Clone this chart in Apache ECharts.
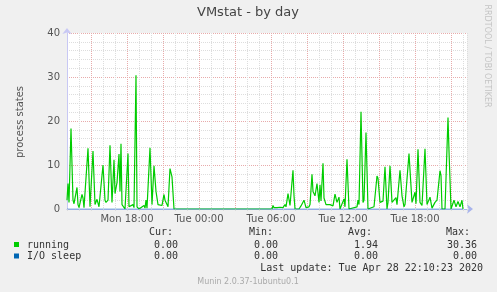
<!DOCTYPE html>
<html>
<head>
<meta charset="utf-8">
<script src="https://cdn.jsdelivr.net/npm/echarts@6/dist/echarts.min.js"></script>
<style>
html,body{margin:0;padding:0;background:#f0f0f0;}
#c{width:497px;height:292px;}
</style>
</head>
<body>
<div id="c"></div>
<script>
// minutes since Mon 00:00 (5-minute samples)
var runningTimes = [
 780,785,790,800,810,815,830,835,840,855,860,865,875,885,895,900,910,920,930,940,950,960,970,975,985,995,1005,1015,1020,1030,1040,1045,1050,1055,1065,1070,1085,1090,1095,1110,1115,1125,1130,1140,1150,1165,1170,1175,1180,1185,1195,1205,1215,1225,1235,1245,1255,1265,1270,1280,1285,1295,1305,1315,
 1805,1810,1815,1825,1830,1840,1845,1855,1860,1870,1875,1885,1895,1910,1915,1920,1940,1950,1960,1965,1975,1985,1990,1995,2005,2010,2020,2030,2040,2045,2050,2060,2065,2075,2085,2095,2110,2120,2130,2140,2145,2155,2165,2170,2180,2190,2230,2235,2240,2250,2260,2265,2275,2285,2315,2330,2335,2345,2350,2360,2370,2380,2385,2395,2405,2415,2425,2430,2445,2455,2465,2470,2480,2490,2505,2520,2525,2535,2545,2555,2560,2570,2580,2590,2595,2605,2615,2620,2630,2645,2650,2655,2670,2685,2690,2700,2710,2715,2725,2735,2745,2755,2760
];
var runningValues = [
 2.0,5.8,1.5,18.3,2.0,1.2,4.9,1.0,0.3,3.3,2.5,0.3,0.2,13.8,0.5,0.2,13.2,1.0,2.2,0.5,0.3,10.0,2.0,1.5,2.0,14.5,1.5,11.2,3.5,6.0,12.5,4.0,14.8,1.0,1.2,0.0,12.6,0.5,0.2,1.0,0.3,30.4,0.5,0.0,0.0,0.8,0.2,2.0,0.2,0.0,13.9,1.0,9.8,4.0,1.0,1.0,0.8,3.3,2.0,1.0,0.5,9.2,7.3,0.0,
 0.0,0.8,0.3,0.6,0.3,0.7,0.4,0.8,0.3,1.0,0.5,3.5,0.8,8.8,3.0,0.0,0.0,0.7,0.3,2.0,0.3,0.7,0.5,1.0,7.9,4.0,3.0,5.8,1.5,5.5,1.8,10.4,2.5,1.0,0.8,1.0,0.7,3.4,1.5,2.7,0.0,0.3,2.3,0.5,11.3,0.0,0.5,2.0,1.0,22.1,1.5,2.0,17.4,0.0,0.5,7.5,7.0,1.5,1.5,1.8,9.6,0.0,1.5,9.8,1.5,1.8,2.6,1.0,8.8,3.0,0.5,1.0,0.8,12.6,1.5,3.8,1.2,13.6,1.5,0.8,1.0,13.7,1.0,1.0,2.7,0.2,0.0,1.5,2.0,8.7,7.6,0.0,0.0,20.8,13.2,0.0,0.3,2.0,0.5,1.7,0.5,2.0,0.0
];
var ioSleepTimes = [780, 2760];
var ioSleepValues = [0, 0];

var xLabelHours = [1080, 1440, 1800, 2160, 2520];
var yLabelValues = [0, 10, 20, 30, 40];

var legendNames = ['running', 'I/O sleep'];
var legendColors = ['#00cc00', '#0066b3'];
var statHeaders = ['Cur:', 'Min:', 'Avg:', 'Max:'];
var runningStats = ['0.00', '0.00', '1.94', '30.36'];
var ioSleepStats = ['0.00', '0.00', '0.00', '0.00'];
var lastUpdate = 'Last update: Tue Apr 28 22:10:23 2020';
var footer = 'Munin 2.0.37-1ubuntu0.1';

function zip(a, b) { return a.map(function (v, i) { return [v, b[i]]; }); }
function pad(n) { return (n < 10 ? '0' : '') + n; }

var chart = echarts.init(document.getElementById('c'), null, {renderer: 'canvas'});

var GRAY = '#dddddd', RED = '#e8abab';
var mono = '"DejaVu Sans Mono", monospace';
var sans = '"DejaVu Sans", sans-serif';

var graphics = [];
graphics.push({type:'text', style:{text:'VMstat - by day', x:248, y:13, textAlign:'center', textVerticalAlign:'middle', font:'13px ' + sans, fill:'#444'}});
graphics.push({type:'text', rotation: Math.PI/2, x:20, y:122, style:{text:'process states', x:0, y:0, textAlign:'center', textVerticalAlign:'middle', font:'10px ' + sans, fill:'#555'}});
graphics.push({type:'text', rotation: -Math.PI/2, x:487, y:56, style:{text:'RRDTOOL / TOBI OETIKER', x:0, y:0, textAlign:'center', textVerticalAlign:'middle', font:'8px ' + sans, fill:'#c4c4c4'}});
var headerRight = [173, 273, 372, 470];
var valueRight = [178, 278, 378, 477];
statHeaders.forEach(function (h, i) {
  graphics.push({type:'text', style:{text:h, x:headerRight[i], y:232, textAlign:'right', textVerticalAlign:'middle', font:'10px ' + mono, fill:'#333'}});
});
[runningStats, ioSleepStats].forEach(function (row, r) {
  var yy = 245 + r * 11.5;
  graphics.push({type:'rect', shape:{x:14, y:yy-3, width:5, height:5}, style:{fill:legendColors[r]}});
  graphics.push({type:'text', style:{text:legendNames[r], x:27, y:yy, textAlign:'left', textVerticalAlign:'middle', font:'10px ' + mono, fill:'#333'}});
  row.forEach(function (v, i) {
    graphics.push({type:'text', style:{text:v, x:valueRight[i], y:yy, textAlign:'right', textVerticalAlign:'middle', font:'10px ' + mono, fill:'#333'}});
  });
});
graphics.push({type:'text', style:{text:lastUpdate, x:483, y:268.5, textAlign:'right', textVerticalAlign:'middle', font:'10px ' + mono, fill:'#333'}});
graphics.push({type:'text', style:{text:footer, x:248, y:282, textAlign:'center', textVerticalAlign:'middle', font:'8px ' + sans, fill:'#aaa'}});

chart.setOption({
  backgroundColor: '#f0f0f0',
  animation: false,
  grid: {left: 67, top: 33, width: 400, height: 176, show: true, backgroundColor: '#ffffff', borderWidth: 0},
  xAxis: {
    type: 'value', min: 780, max: 2780, interval: 60,
    axisLine: {show: true, lineStyle: {color: '#a8b4ec', width: 1}, symbol: ['none', 'arrow'], symbolSize: [7, 6], symbolOffset: [0, 6]},
    axisTick: {show: true, length: 2, lineStyle: {color: '#dcdcdc'}},
    axisLabel: {
      margin: 5, color: '#555', fontFamily: 'DejaVu Sans', fontSize: 10,
      formatter: function (v) {
        if (xLabelHours.indexOf(v) < 0) return '';
        var day = v < 1440 ? 'Mon' : 'Tue';
        return day + ' ' + pad(Math.floor((v % 1440) / 60)) + ':00';
      }
    },
    splitLine: {show: true, lineStyle: {color: [GRAY, GRAY, RED], type: [1, 1], width: 1}}
  },
  yAxis: {
    type: 'value', min: 0, max: 40, interval: 2,
    axisLine: {show: true, lineStyle: {color: '#c8c8f4', width: 1}, symbol: ['none', 'arrow'], symbolSize: [7, 6], symbolOffset: [0, 5]},
    axisTick: {show: false},
    axisLabel: {
      margin: 7, color: '#555', fontFamily: 'DejaVu Sans', fontSize: 10,
      formatter: function (v) { return yLabelValues.indexOf(v) >= 0 ? String(v) : ''; }
    },
    splitLine: {show: true, lineStyle: {color: [RED, GRAY, GRAY, GRAY, GRAY], type: [1, 1], width: 1}}
  },
  series: [
    {name: 'running', type: 'line', data: zip(runningTimes, runningValues), showSymbol: false, symbol: 'none',
     lineStyle: {color: legendColors[0], width: 1.2}, z: 3},
    {name: 'I/O sleep', type: 'line', data: zip(ioSleepTimes, ioSleepValues), showSymbol: false, symbol: 'none',
     lineStyle: {color: legendColors[1], width: 1, opacity: 0.45}, z: 4}
  ],
  graphic: graphics
});
</script>
</body>
</html>
